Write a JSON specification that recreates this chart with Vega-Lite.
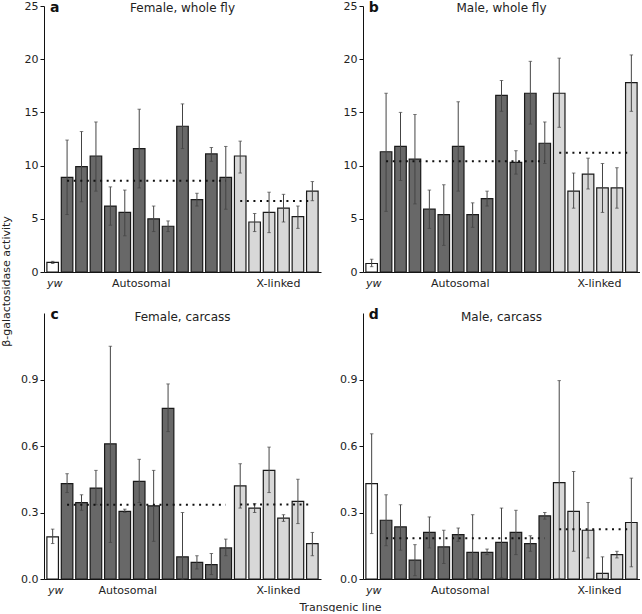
{
  "$schema": "https://vega.github.io/schema/vega-lite/v6.json",
  "padding": {"left": 0, "top": 0, "right": 0, "bottom": 0},
  "bounds": "flush",
  "columns": 2,
  "spacing": {"row": 41, "column": 42},
  "config": {
    "view": {"stroke": null},
    "font": "DejaVu Sans",
    "axis": {"labelColor": "#222", "labelFontSize": 11, "titleColor": "#222", "titleFontSize": 11, "titleFontWeight": "normal", "domainColor": "#111", "tickColor": "#111", "grid": false}
  },
  "datasets": {
    "a": [
      {"idx": 1, "group": "yw", "value": 0.9, "lo": 0.8, "hi": 1.0},
      {"idx": 2, "group": "Autosomal", "value": 8.9, "lo": 5.4, "hi": 12.4},
      {"idx": 3, "group": "Autosomal", "value": 9.9, "lo": 6.6, "hi": 13.2},
      {"idx": 4, "group": "Autosomal", "value": 10.9, "lo": 7.6, "hi": 14.1},
      {"idx": 5, "group": "Autosomal", "value": 6.2, "lo": 4.4, "hi": 8.0},
      {"idx": 6, "group": "Autosomal", "value": 5.6, "lo": 3.4, "hi": 7.7},
      {"idx": 7, "group": "Autosomal", "value": 11.6, "lo": 7.9, "hi": 15.3},
      {"idx": 8, "group": "Autosomal", "value": 5.0, "lo": 3.8, "hi": 6.2},
      {"idx": 9, "group": "Autosomal", "value": 4.3, "lo": 3.8, "hi": 4.8},
      {"idx": 10, "group": "Autosomal", "value": 13.7, "lo": 11.6, "hi": 15.8},
      {"idx": 11, "group": "Autosomal", "value": 6.8, "lo": 6.2, "hi": 7.4},
      {"idx": 12, "group": "Autosomal", "value": 11.1, "lo": 10.4, "hi": 11.7},
      {"idx": 13, "group": "Autosomal", "value": 8.9, "lo": 5.9, "hi": 11.8},
      {"idx": 14, "group": "X-linked", "value": 10.9, "lo": 9.3, "hi": 12.3},
      {"idx": 15, "group": "X-linked", "value": 4.7, "lo": 3.8, "hi": 5.5},
      {"idx": 16, "group": "X-linked", "value": 5.6, "lo": 3.7, "hi": 7.5},
      {"idx": 17, "group": "X-linked", "value": 6.0, "lo": 4.7, "hi": 7.3},
      {"idx": 18, "group": "X-linked", "value": 5.2, "lo": 4.1, "hi": 6.2},
      {"idx": 19, "group": "X-linked", "value": 7.6, "lo": 6.7, "hi": 8.5}
    ],
    "b": [
      {"idx": 1, "group": "yw", "value": 0.8, "lo": 0.5, "hi": 1.2},
      {"idx": 2, "group": "Autosomal", "value": 11.3, "lo": 5.7, "hi": 16.8},
      {"idx": 3, "group": "Autosomal", "value": 11.8, "lo": 8.6, "hi": 15.0},
      {"idx": 4, "group": "Autosomal", "value": 10.6, "lo": 6.4, "hi": 14.8},
      {"idx": 5, "group": "Autosomal", "value": 5.9, "lo": 4.1, "hi": 7.7},
      {"idx": 6, "group": "Autosomal", "value": 5.4, "lo": 2.5, "hi": 8.2},
      {"idx": 7, "group": "Autosomal", "value": 11.8, "lo": 7.6, "hi": 16.0},
      {"idx": 8, "group": "Autosomal", "value": 5.4, "lo": 4.2, "hi": 6.5},
      {"idx": 9, "group": "Autosomal", "value": 6.9, "lo": 6.2, "hi": 7.6},
      {"idx": 10, "group": "Autosomal", "value": 16.6, "lo": 15.1, "hi": 18.0},
      {"idx": 11, "group": "Autosomal", "value": 10.3, "lo": 9.2, "hi": 11.4},
      {"idx": 12, "group": "Autosomal", "value": 16.8, "lo": 13.9, "hi": 19.8},
      {"idx": 13, "group": "Autosomal", "value": 12.1, "lo": 10.2, "hi": 14.1},
      {"idx": 14, "group": "X-linked", "value": 16.8, "lo": 13.6, "hi": 20.1},
      {"idx": 15, "group": "X-linked", "value": 7.6, "lo": 6.0, "hi": 9.3},
      {"idx": 16, "group": "X-linked", "value": 9.2, "lo": 7.8, "hi": 10.7},
      {"idx": 17, "group": "X-linked", "value": 7.9, "lo": 5.6, "hi": 10.2},
      {"idx": 18, "group": "X-linked", "value": 7.9, "lo": 6.0, "hi": 9.8},
      {"idx": 19, "group": "X-linked", "value": 17.8, "lo": 15.1, "hi": 20.4}
    ],
    "c": [
      {"idx": 1, "group": "yw", "value": 0.19, "lo": 0.16, "hi": 0.225},
      {"idx": 2, "group": "Autosomal", "value": 0.43, "lo": 0.39, "hi": 0.475},
      {"idx": 3, "group": "Autosomal", "value": 0.345, "lo": 0.31, "hi": 0.38},
      {"idx": 4, "group": "Autosomal", "value": 0.41, "lo": 0.335, "hi": 0.49},
      {"idx": 5, "group": "Autosomal", "value": 0.61, "lo": 0.165, "hi": 1.05},
      {"idx": 6, "group": "Autosomal", "value": 0.305, "lo": 0.3, "hi": 0.315},
      {"idx": 7, "group": "Autosomal", "value": 0.44, "lo": 0.345, "hi": 0.54},
      {"idx": 8, "group": "Autosomal", "value": 0.33, "lo": 0.17, "hi": 0.49},
      {"idx": 9, "group": "Autosomal", "value": 0.77, "lo": 0.665, "hi": 0.88},
      {"idx": 10, "group": "Autosomal", "value": 0.1, "lo": 0.0, "hi": 0.3},
      {"idx": 11, "group": "Autosomal", "value": 0.075, "lo": 0.045, "hi": 0.105},
      {"idx": 12, "group": "Autosomal", "value": 0.065, "lo": 0.02, "hi": 0.115},
      {"idx": 13, "group": "Autosomal", "value": 0.14, "lo": 0.105, "hi": 0.18},
      {"idx": 14, "group": "X-linked", "value": 0.42, "lo": 0.32, "hi": 0.52},
      {"idx": 15, "group": "X-linked", "value": 0.32, "lo": 0.3, "hi": 0.34},
      {"idx": 16, "group": "X-linked", "value": 0.49, "lo": 0.39, "hi": 0.595},
      {"idx": 17, "group": "X-linked", "value": 0.275, "lo": 0.26, "hi": 0.29},
      {"idx": 18, "group": "X-linked", "value": 0.35, "lo": 0.25, "hi": 0.45},
      {"idx": 19, "group": "X-linked", "value": 0.16, "lo": 0.105, "hi": 0.21}
    ],
    "d": [
      {"idx": 1, "group": "yw", "value": 0.43, "lo": 0.205, "hi": 0.655},
      {"idx": 2, "group": "Autosomal", "value": 0.265, "lo": 0.15, "hi": 0.38},
      {"idx": 3, "group": "Autosomal", "value": 0.235, "lo": 0.13, "hi": 0.335},
      {"idx": 4, "group": "Autosomal", "value": 0.085, "lo": 0.015, "hi": 0.155},
      {"idx": 5, "group": "Autosomal", "value": 0.21, "lo": 0.14, "hi": 0.28},
      {"idx": 6, "group": "Autosomal", "value": 0.145, "lo": 0.07, "hi": 0.22},
      {"idx": 7, "group": "Autosomal", "value": 0.2, "lo": 0.17, "hi": 0.23},
      {"idx": 8, "group": "Autosomal", "value": 0.12, "lo": 0.0, "hi": 0.29},
      {"idx": 9, "group": "Autosomal", "value": 0.12, "lo": 0.11, "hi": 0.135},
      {"idx": 10, "group": "Autosomal", "value": 0.165, "lo": 0.005, "hi": 0.32},
      {"idx": 11, "group": "Autosomal", "value": 0.21, "lo": 0.11, "hi": 0.31},
      {"idx": 12, "group": "Autosomal", "value": 0.16, "lo": 0.125, "hi": 0.195},
      {"idx": 13, "group": "Autosomal", "value": 0.285, "lo": 0.27, "hi": 0.3},
      {"idx": 14, "group": "X-linked", "value": 0.435, "lo": 0.0, "hi": 0.895},
      {"idx": 15, "group": "X-linked", "value": 0.305, "lo": 0.125, "hi": 0.485},
      {"idx": 16, "group": "X-linked", "value": 0.22, "lo": 0.095, "hi": 0.345},
      {"idx": 17, "group": "X-linked", "value": 0.025, "lo": 0.0, "hi": 0.1},
      {"idx": 18, "group": "X-linked", "value": 0.11, "lo": 0.095, "hi": 0.125},
      {"idx": 19, "group": "X-linked", "value": 0.255, "lo": 0.055, "hi": 0.455}
    ],
    "panels": [
      {"panel": "a", "title": "Female, whole fly"},
      {"panel": "b", "title": "Male, whole fly"},
      {"panel": "c", "title": "Female, carcass"},
      {"panel": "d", "title": "Male, carcass"}
    ]
  },
  "concat": [
    {
      "width": 277, "height": 266,
      "layer": [
        {
          "data": {"name": "a"},
          "mark": {"type": "bar", "stroke": "#1a1a1a", "strokeWidth": 1.2},
          "encoding": {
            "x": {"field": "idx", "type": "ordinal", "scale": {"domain": [1,2,3,4,5,6,7,8,9,10,11,12,13,14,15,16,17,18,19], "paddingInner": 0.2, "paddingOuter": 0.2},
              "axis": {"title": null, "ticks": false, "domain": true, "labelAngle": 0, "labelPadding": 5,
                "labelExpr": "datum.value == 1 ? 'yw' : datum.value == 7 ? 'Autosomal' : datum.value == 17 ? 'X-linked' : ''",
                "labelFontStyle": {"condition": {"test": "datum.value == 1", "value": "italic"}, "value": "normal"},
                "labelOffset": {"condition": {"test": "datum.value == 17", "value": -5}, "value": 2}}},
            "y": {"field": "value", "type": "quantitative", "title": "β-galactosidase activity", "scale": {"domain": [0, 25], "nice": false},
              "axis": {"values": [0,5,10,15,20,25], "tickSize": 4, "labelPadding": 2, "titleX": -38, "titleY": 275, "titleBaseline": "middle"}},
            "fill": {"field": "group", "type": "nominal", "scale": {"domain": ["yw", "Autosomal", "X-linked"], "range": ["#ffffff", "#686868", "#d8d8d8"]}, "legend": null}
          }
        },
        {
          "data": {"name": "a"},
          "mark": {"type": "errorbar", "color": "#444", "thickness": 1, "ticks": {"size": 3.5, "color": "#444"}},
          "encoding": {"x": {"field": "idx", "type": "ordinal"}, "y": {"field": "lo", "type": "quantitative", "title": "β-galactosidase activity"}, "y2": {"field": "hi"}}
        },
        {
          "data": {"name": "a"},
          "transform": [{"filter": "datum.group != 'yw'"}, {"aggregate": [{"op": "mean", "field": "value", "as": "m"}, {"op": "min", "field": "idx", "as": "i0"}, {"op": "max", "field": "idx", "as": "i1"}], "groupby": ["group"]}],
          "mark": {"type": "rule", "strokeDash": [2, 4.6], "strokeWidth": 2, "color": "#111"},
          "encoding": {"x": {"field": "i0", "type": "ordinal"}, "x2": {"field": "i1"}, "y": {"field": "m", "type": "quantitative", "title": "β-galactosidase activity"}}
        },
        {
          "data": {"name": "panels"},
          "transform": [{"filter": "datum.panel == 'a'"}],
          "mark": {"type": "text", "fontWeight": "bold", "fontSize": 14, "baseline": "middle", "dx": 2, "dy": 2, "color": "#111"},
          "encoding": {"text": {"field": "panel"}, "x": {"datum": 1, "type": "ordinal"}, "y": {"datum": 25, "type": "quantitative"}}
        },
        {
          "data": {"name": "panels"},
          "transform": [{"filter": "datum.panel == 'a'"}],
          "mark": {"type": "text", "fontSize": 12, "baseline": "middle", "dy": 1.5, "color": "#222"},
          "encoding": {"text": {"field": "title"}, "x": {"datum": 10, "type": "ordinal"}, "y": {"datum": 25, "type": "quantitative"}}
        }
      ]
    },
    {
      "width": 277, "height": 266,
      "layer": [
        {
          "data": {"name": "b"},
          "mark": {"type": "bar", "stroke": "#1a1a1a", "strokeWidth": 1.2},
          "encoding": {
            "x": {"field": "idx", "type": "ordinal", "scale": {"domain": [1,2,3,4,5,6,7,8,9,10,11,12,13,14,15,16,17,18,19], "paddingInner": 0.2, "paddingOuter": 0.2},
              "axis": {"title": null, "ticks": false, "domain": true, "labelAngle": 0, "labelPadding": 5,
                "labelExpr": "datum.value == 1 ? 'yw' : datum.value == 7 ? 'Autosomal' : datum.value == 17 ? 'X-linked' : ''",
                "labelFontStyle": {"condition": {"test": "datum.value == 1", "value": "italic"}, "value": "normal"},
                "labelOffset": {"condition": {"test": "datum.value == 17", "value": -3}, "value": 2}}},
            "y": {"field": "value", "type": "quantitative", "title": null, "scale": {"domain": [0, 25], "nice": false},
              "axis": {"values": [0,5,10,15,20,25], "tickSize": 4, "labelPadding": 2}},
            "fill": {"field": "group", "type": "nominal", "scale": {"domain": ["yw", "Autosomal", "X-linked"], "range": ["#ffffff", "#686868", "#d8d8d8"]}, "legend": null}
          }
        },
        {
          "data": {"name": "b"},
          "mark": {"type": "errorbar", "color": "#444", "thickness": 1, "ticks": {"size": 3.5, "color": "#444"}},
          "encoding": {"x": {"field": "idx", "type": "ordinal"}, "y": {"field": "lo", "type": "quantitative", "title": null}, "y2": {"field": "hi"}}
        },
        {
          "data": {"name": "b"},
          "transform": [{"filter": "datum.group != 'yw'"}, {"aggregate": [{"op": "mean", "field": "value", "as": "m"}, {"op": "min", "field": "idx", "as": "i0"}, {"op": "max", "field": "idx", "as": "i1"}], "groupby": ["group"]}],
          "mark": {"type": "rule", "strokeDash": [2, 4.6], "strokeWidth": 2, "color": "#111"},
          "encoding": {"x": {"field": "i0", "type": "ordinal"}, "x2": {"field": "i1"}, "y": {"field": "m", "type": "quantitative", "title": null}}
        },
        {
          "data": {"name": "panels"},
          "transform": [{"filter": "datum.panel == 'b'"}],
          "mark": {"type": "text", "fontWeight": "bold", "fontSize": 14, "baseline": "middle", "dx": 2, "dy": 2, "color": "#111"},
          "encoding": {"text": {"field": "panel"}, "x": {"datum": 1, "type": "ordinal"}, "y": {"datum": 25, "type": "quantitative"}}
        },
        {
          "data": {"name": "panels"},
          "transform": [{"filter": "datum.panel == 'b'"}],
          "mark": {"type": "text", "fontSize": 12, "baseline": "middle", "dy": 1.5, "color": "#222"},
          "encoding": {"text": {"field": "title"}, "x": {"datum": 10, "type": "ordinal"}, "y": {"datum": 25, "type": "quantitative"}}
        }
      ]
    },
    {
      "width": 277, "height": 266,
      "layer": [
        {
          "data": {"name": "c"},
          "mark": {"type": "bar", "stroke": "#1a1a1a", "strokeWidth": 1.2},
          "encoding": {
            "x": {"field": "idx", "type": "ordinal", "title": "Transgenic line", "scale": {"domain": [1,2,3,4,5,6,7,8,9,10,11,12,13,14,15,16,17,18,19], "paddingInner": 0.2, "paddingOuter": 0.2},
              "axis": {"ticks": false, "domain": true, "labelAngle": 0, "labelPadding": 5,
                "labelExpr": "datum.value == 1 ? 'yw' : datum.value == 6 ? 'Autosomal' : datum.value == 17 ? 'X-linked' : ''",
                "labelFontStyle": {"condition": {"test": "datum.value == 1", "value": "italic"}, "value": "normal"},
                "labelOffset": {"condition": {"test": "datum.value == 17", "value": -5}, "value": 3},
                "titleX": 296, "titleY": 28, "titleBaseline": "middle"}},
            "y": {"field": "value", "type": "quantitative", "title": null, "scale": {"domain": [0, 1.2], "nice": false},
              "axis": {"values": [0, 0.3, 0.6, 0.9], "format": ".1f", "tickSize": 4, "labelPadding": 2}},
            "fill": {"field": "group", "type": "nominal", "scale": {"domain": ["yw", "Autosomal", "X-linked"], "range": ["#ffffff", "#686868", "#d8d8d8"]}, "legend": null}
          }
        },
        {
          "data": {"name": "c"},
          "mark": {"type": "errorbar", "color": "#444", "thickness": 1, "ticks": {"size": 3.5, "color": "#444"}},
          "encoding": {"x": {"field": "idx", "type": "ordinal", "title": "Transgenic line"}, "y": {"field": "lo", "type": "quantitative", "title": null}, "y2": {"field": "hi"}}
        },
        {
          "data": {"name": "c"},
          "transform": [{"filter": "datum.group != 'yw'"}, {"aggregate": [{"op": "mean", "field": "value", "as": "m"}, {"op": "min", "field": "idx", "as": "i0"}, {"op": "max", "field": "idx", "as": "i1"}], "groupby": ["group"]}],
          "mark": {"type": "rule", "strokeDash": [2, 4.6], "strokeWidth": 2, "color": "#111"},
          "encoding": {"x": {"field": "i0", "type": "ordinal", "title": "Transgenic line"}, "x2": {"field": "i1"}, "y": {"field": "m", "type": "quantitative", "title": null}}
        },
        {
          "data": {"name": "panels"},
          "transform": [{"filter": "datum.panel == 'c'"}],
          "mark": {"type": "text", "fontWeight": "bold", "fontSize": 14, "baseline": "middle", "dx": 2, "dy": 2, "color": "#111"},
          "encoding": {"text": {"field": "panel"}, "x": {"datum": 1, "type": "ordinal"}, "y": {"datum": 1.2, "type": "quantitative"}}
        },
        {
          "data": {"name": "panels"},
          "transform": [{"filter": "datum.panel == 'c'"}],
          "mark": {"type": "text", "fontSize": 12, "baseline": "middle", "dy": 4, "color": "#222"},
          "encoding": {"text": {"field": "title"}, "x": {"datum": 10, "type": "ordinal"}, "y": {"datum": 1.2, "type": "quantitative"}}
        }
      ]
    },
    {
      "width": 277, "height": 266,
      "layer": [
        {
          "data": {"name": "d"},
          "mark": {"type": "bar", "stroke": "#1a1a1a", "strokeWidth": 1.2},
          "encoding": {
            "x": {"field": "idx", "type": "ordinal", "scale": {"domain": [1,2,3,4,5,6,7,8,9,10,11,12,13,14,15,16,17,18,19], "paddingInner": 0.2, "paddingOuter": 0.2},
              "axis": {"title": null, "ticks": false, "domain": true, "labelAngle": 0, "labelPadding": 5,
                "labelExpr": "datum.value == 1 ? 'yw' : datum.value == 7 ? 'Autosomal' : datum.value == 17 ? 'X-linked' : ''",
                "labelFontStyle": {"condition": {"test": "datum.value == 1", "value": "italic"}, "value": "normal"},
                "labelOffset": {"condition": {"test": "datum.value == 17", "value": -3}, "value": 2}}},
            "y": {"field": "value", "type": "quantitative", "title": null, "scale": {"domain": [0, 1.2], "nice": false},
              "axis": {"values": [0, 0.3, 0.6, 0.9], "format": ".1f", "tickSize": 4, "labelPadding": 2}},
            "fill": {"field": "group", "type": "nominal", "scale": {"domain": ["yw", "Autosomal", "X-linked"], "range": ["#ffffff", "#686868", "#d8d8d8"]}, "legend": null}
          }
        },
        {
          "data": {"name": "d"},
          "mark": {"type": "errorbar", "color": "#444", "thickness": 1, "ticks": {"size": 3.5, "color": "#444"}},
          "encoding": {"x": {"field": "idx", "type": "ordinal"}, "y": {"field": "lo", "type": "quantitative", "title": null}, "y2": {"field": "hi"}}
        },
        {
          "data": {"name": "d"},
          "transform": [{"filter": "datum.group != 'yw'"}, {"aggregate": [{"op": "mean", "field": "value", "as": "m"}, {"op": "min", "field": "idx", "as": "i0"}, {"op": "max", "field": "idx", "as": "i1"}], "groupby": ["group"]}],
          "mark": {"type": "rule", "strokeDash": [2, 4.6], "strokeWidth": 2, "color": "#111"},
          "encoding": {"x": {"field": "i0", "type": "ordinal"}, "x2": {"field": "i1"}, "y": {"field": "m", "type": "quantitative", "title": null}}
        },
        {
          "data": {"name": "panels"},
          "transform": [{"filter": "datum.panel == 'd'"}],
          "mark": {"type": "text", "fontWeight": "bold", "fontSize": 14, "baseline": "middle", "dx": 2, "dy": 2, "color": "#111"},
          "encoding": {"text": {"field": "panel"}, "x": {"datum": 1, "type": "ordinal"}, "y": {"datum": 1.2, "type": "quantitative"}}
        },
        {
          "data": {"name": "panels"},
          "transform": [{"filter": "datum.panel == 'd'"}],
          "mark": {"type": "text", "fontSize": 12, "baseline": "middle", "dy": 4, "color": "#222"},
          "encoding": {"text": {"field": "title"}, "x": {"datum": 10, "type": "ordinal"}, "y": {"datum": 1.2, "type": "quantitative"}}
        }
      ]
    }
  ]
}
